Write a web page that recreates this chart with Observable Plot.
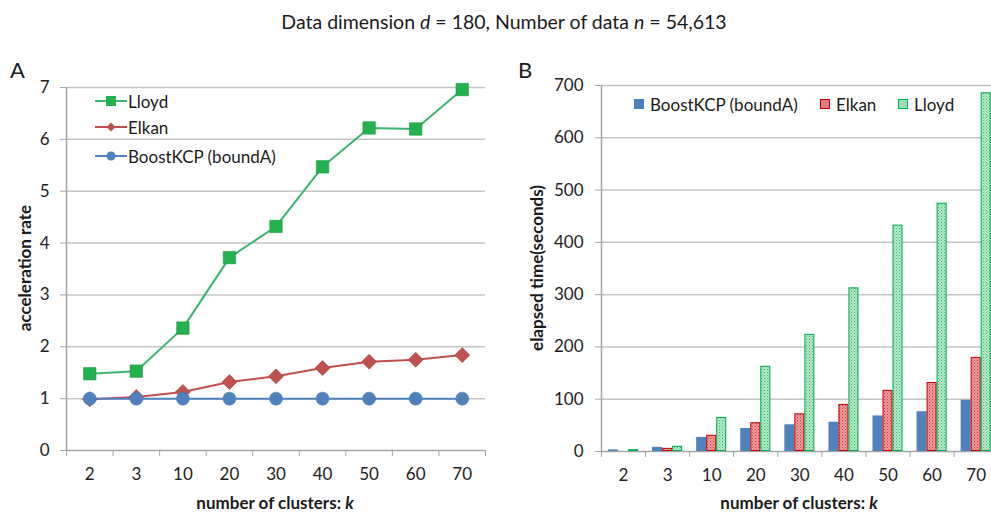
<!DOCTYPE html>
<html><head><meta charset="utf-8">
<script src="https://cdn.jsdelivr.net/npm/d3@7"></script>
<script src="https://cdn.jsdelivr.net/npm/@observablehq/plot@0.6"></script>
<style>
body{margin:0;background:#fff;overflow:hidden;}
#wrap{position:relative;width:991px;height:514px;overflow:hidden;font-family:Lato,sans-serif;color:#1a1a1a;background:#fff;}
.abs{position:absolute;white-space:nowrap;line-height:1;}
.ttl{font-weight:bold;font-size:17px;}
.lg{font-size:17px;}
</style></head><body><div id="wrap"></div>
<script>
// ---- data ----
const clusters = ["2","3","10","20","30","40","50","60","70"];
const seriesNames = ["Lloyd","Elkan","BoostKCP (boundA)"];
const lloydRate = [1.48,1.53,2.36,3.72,4.32,5.47,6.22,6.20,6.96];
const elkanRate = [0.99,1.03,1.13,1.32,1.43,1.59,1.71,1.75,1.84];
const boostRate = [1,1,1,1,1,1,1,1,1];
const boostTime = [3,8,27,44,51,56,68,76,98];
const elkanTime = [1,6,31,55,72,90,117,132,180];
const lloydTime = [3.5,10,65,163,224,313,433,475,686];
const rateTicks = [0,1,2,3,4,5,6,7];
const timeTicks = [0,100,200,300,400,500,600,700];

const wrap = document.getElementById("wrap");
const idx = clusters.map((_, i) => i);
const bounds = d3.range(clusters.length + 1).map(i => i - 0.5);

const rateRows = [];
[["Elkan", elkanRate],["BoostKCP (boundA)", boostRate],["Lloyd", lloydRate]].forEach(([s, arr]) =>
  arr.forEach((v, i) => rateRows.push({s, i, v})));
const timeRows = [];
[["BoostKCP (boundA)", boostTime, -1],["Elkan", elkanTime, 0],["Lloyd", lloydTime, 1]].forEach(([s, arr, o]) =>
  arr.forEach((v, i) => timeRows.push({s, i, v, o})));

const col = {Lloyd: "#3cb371", Elkan: "#c0504d", "BoostKCP (boundA)": "#4f81bd"};
const diamondSym = {draw(ctx, size){ const h = Math.sqrt(size/Math.PI); ctx.moveTo(0,-h); ctx.lineTo(h,0); ctx.lineTo(0,h); ctx.lineTo(-h,0); ctx.closePath(); }};

function add(el, css){ el.style.position = "absolute"; Object.assign(el.style, css); wrap.appendChild(el); return el; }
function txt(html, css, cls){ const d = document.createElement("div"); d.className = "abs " + (cls||""); d.innerHTML = html; return add(d, css); }

const axisGray = "#a6a6a6", gridGray = "#c4c4c4";
const fmt = d3.format("d");

// ---- left chart ----
const left = Plot.plot({
  width: 495, height: 454, marginLeft: 66, marginRight: 10, marginTop: 27, marginBottom: 64,
  style: {fontFamily: "Lato, sans-serif", fontSize: "17px", color: "#222", background: "transparent"},
  x: {domain: [-0.5, 8.5], axis: null},
  y: {domain: [0, 7], axis: null},
  marks: [
    Plot.gridY(rateTicks.slice(1), {stroke: gridGray, strokeOpacity: 1, strokeWidth: 1.5}),
    Plot.axisY(rateTicks, {tickSize: 6, tickPadding: 11, stroke: axisGray, fill: "#222", tickFormat: fmt, label: null}),
    Plot.ruleX([-0.5], {stroke: axisGray, strokeWidth: 1.5}),
    Plot.ruleY([0], {stroke: axisGray, strokeWidth: 1.5}),
    Plot.axisX(bounds, {tickSize: 6, tickFormat: () => "", stroke: axisGray, label: null}),
    Plot.axisX(idx, {tickSize: 0, tickPadding: 17, tickFormat: i => clusters[i], fill: "#222", label: null}),
    Plot.line(rateRows, {x: "i", y: "v", z: "s", stroke: d => col[d.s], strokeWidth: 2}),
    Plot.dot(rateRows.filter(d => d.s === "Elkan"), {x: "i", y: "v", symbol: diamondSym, r: 7.5, fill: "#c0504d", stroke: "#a8403d", strokeWidth: 0.6}),
    Plot.dot(rateRows.filter(d => d.s === "BoostKCP (boundA)"), {x: "i", y: "v", symbol: "circle", r: 6.5, fill: "#4f81bd", stroke: "#4a7ab3", strokeWidth: 0.6}),
    Plot.dot(rateRows.filter(d => d.s === "Lloyd"), {x: "i", y: "v", symbol: "square", r: 7, fill: "#22b14c", stroke: "#1a9a40", strokeWidth: 0.6})
  ]
});
add(left, {left: "0px", top: "60px"});

// ---- right chart ----
const bw = 10/44;
const right = Plot.plot({
  width: 510, height: 454, marginLeft: 101, marginRight: 12.3, marginTop: 25, marginBottom: 63,
  style: {fontFamily: "Lato, sans-serif", fontSize: "17px", color: "#222", background: "transparent", overflow: "visible"},
  x: {domain: [-0.5, 8.5], axis: null},
  y: {domain: [0, 700], axis: null},
  marks: [
    Plot.gridY(timeTicks.slice(1), {stroke: gridGray, strokeOpacity: 1, strokeWidth: 1.5}),
    Plot.axisY(timeTicks, {tickSize: 6, tickPadding: 12, stroke: axisGray, fill: "#222", tickFormat: fmt, label: null}),
    Plot.ruleX([-0.5], {stroke: axisGray, strokeWidth: 1.5}),
    Plot.ruleY([0], {stroke: axisGray, strokeWidth: 1.5}),
    Plot.axisX(bounds, {tickSize: 6, tickFormat: () => "", stroke: axisGray, label: null}),
    Plot.axisX(idx, {tickSize: 0, tickPadding: 17, tickFormat: i => clusters[i], fill: "#222", label: null}),
    Plot.rectY(timeRows.filter(d => d.s === "BoostKCP (boundA)"), {x1: d => d.i + (d.o - 0.5)*bw, x2: d => d.i + (d.o + 0.5)*bw, y1: 0, y2: "v", fill: "#4f81bd"}),
    Plot.rectY(timeRows.filter(d => d.s === "Elkan"), {x1: d => d.i + (d.o - 0.5)*bw, x2: d => d.i + (d.o + 0.5)*bw, y1: 0, y2: "v", fill: "url(#pRed)", stroke: "#c00000", strokeWidth: 1, inset: 0.5}),
    Plot.rectY(timeRows.filter(d => d.s === "Lloyd"), {x1: d => d.i + (d.o - 0.5)*bw, x2: d => d.i + (d.o + 0.5)*bw, y1: 0, y2: "v", fill: "url(#pGreen)", stroke: "#00a94f", strokeWidth: 1, inset: 0.5})
  ]
});
const ns = "http://www.w3.org/2000/svg";
const defs = document.createElementNS(ns, "defs");
defs.innerHTML = `
<pattern id="pRed" width="3" height="3" patternUnits="userSpaceOnUse"><rect width="3" height="3" fill="#ee9a9a"/><rect x="0" y="0" width="1" height="1" fill="#c83a3c"/><rect x="1.5" y="1.5" width="1" height="1" fill="#d85a5c"/></pattern>
<pattern id="pGreen" width="3" height="3" patternUnits="userSpaceOnUse"><rect width="3" height="3" fill="#b3e8c6"/><rect x="0" y="0" width="1" height="1" fill="#3dbb6d"/><rect x="1.5" y="1.5" width="1" height="1" fill="#6ccb90"/></pattern>`;
right.insertBefore(defs, right.firstChild);
add(right, {left: "500px", top: "60px"});

// ---- titles ----
txt('Data dimension <i>d</i> = 180, Number of data <i>n</i> = 54,613', {left: "504px", top: "22px", transform: "translate(-50%,-50%)", fontSize: "19.5px"});
txt('A', {left: "10px", top: "59px", fontSize: "22px"});
txt('B', {left: "518px", top: "59px", fontSize: "22px"});
txt('acceleration rate', {left: "24px", top: "268px", transform: "translate(-50%,-50%) rotate(-90deg)"}, "ttl");
txt('elapsed time(seconds)', {left: "536px", top: "268px", transform: "translate(-50%,-50%) rotate(-90deg)"}, "ttl");
txt('number of clusters: <i>k</i>', {left: "275px", top: "502px", transform: "translate(-50%,-50%)"}, "ttl");
txt('number of clusters: <i>k</i>', {left: "799px", top: "502px", transform: "translate(-50%,-50%)"}, "ttl");

// ---- legends ----
function lineLegend(name, y, shape){
  const s = document.createElementNS(ns, "svg");
  s.setAttribute("width", 34); s.setAttribute("height", 14);
  s.innerHTML = `<line x1="1" x2="33" y1="7" y2="7" stroke="${col[name]}" stroke-width="2"/>` + shape;
  add(s, {left: "94px", top: (y - 7) + "px"});
  txt(name, {left: "128px", top: y + "px", transform: "translateY(-50%)"}, "lg");
}
lineLegend("Lloyd", 101, `<rect x="12" y="2" width="10" height="10" fill="#22b14c"/>`);
lineLegend("Elkan", 127, `<path d="M17,2.5L21.5,7L17,11.5L12.5,7Z" fill="#c0504d"/>`);
lineLegend("BoostKCP (boundA)", 156, `<circle cx="17" cy="7" r="4.5" fill="#4f81bd"/>`);

function boxLegend(name, x, fill, stroke){
  const d = document.createElement("div");
  add(d, {left: x + "px", top: "99px", width: "10px", height: "10px", background: fill, border: stroke ? "1px solid " + stroke : "none", boxSizing: "border-box"});
  txt(name, {left: (x + 16) + "px", top: "104px", transform: "translateY(-50%)"}, "lg");
}
boxLegend("BoostKCP (boundA)", 634, "#4f81bd");
boxLegend("Elkan", 820, "#e57c7c", "#c00000");
boxLegend("Lloyd", 898, "#9edfb5", "#00a94f");
</script></body></html>
